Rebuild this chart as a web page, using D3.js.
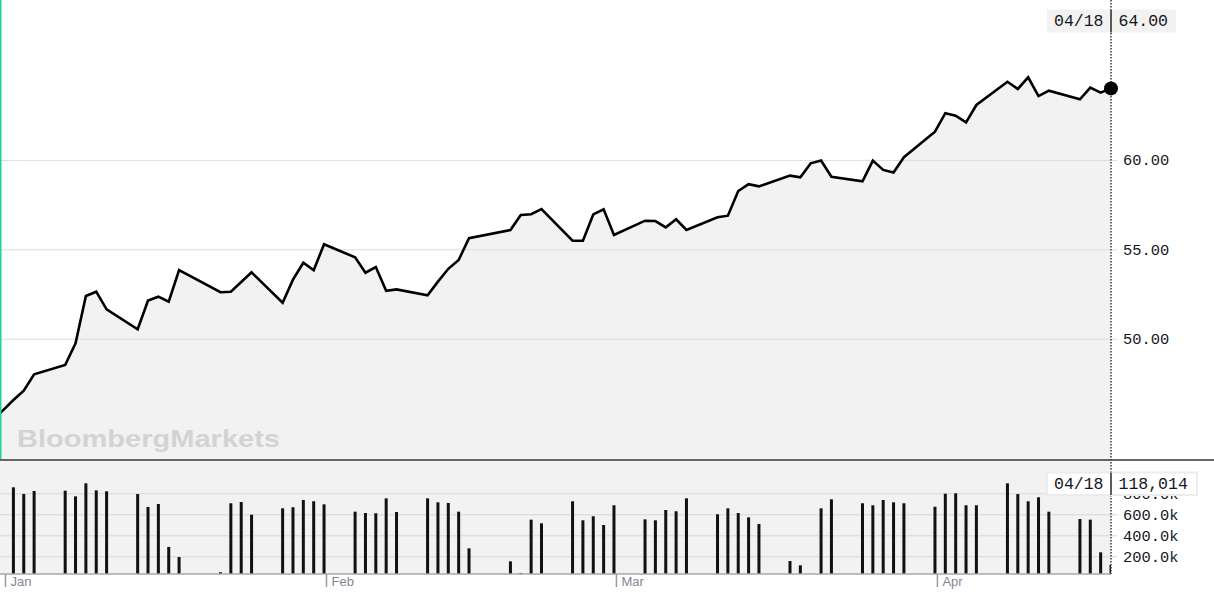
<!DOCTYPE html>
<html>
<head>
<meta charset="utf-8">
<script src="https://cdn.jsdelivr.net/npm/d3@7"></script>
<style>
  html, body { margin: 0; padding: 0; background: #fff; }
  svg { display: block; }
</style>
</head>
<body>
<div id="chart"></div>
<script>
// ---- data ----
const dates = [
  "2018-12-31",
  "2019-01-02","2019-01-03","2019-01-04","2019-01-07","2019-01-08","2019-01-09","2019-01-10","2019-01-11",
  "2019-01-14","2019-01-15","2019-01-16","2019-01-17","2019-01-18","2019-01-22","2019-01-23","2019-01-24",
  "2019-01-25","2019-01-28","2019-01-29","2019-01-30","2019-01-31","2019-02-01","2019-02-04","2019-02-05",
  "2019-02-06","2019-02-07","2019-02-08","2019-02-11","2019-02-12","2019-02-13","2019-02-14","2019-02-15",
  "2019-02-19","2019-02-20","2019-02-21","2019-02-22","2019-02-25","2019-02-26","2019-02-27","2019-02-28",
  "2019-03-01","2019-03-04","2019-03-05","2019-03-06","2019-03-07","2019-03-08","2019-03-11","2019-03-12",
  "2019-03-13","2019-03-14","2019-03-15","2019-03-18","2019-03-19","2019-03-20","2019-03-21","2019-03-22",
  "2019-03-25","2019-03-26","2019-03-27","2019-03-28","2019-03-29","2019-04-01","2019-04-02","2019-04-03",
  "2019-04-04","2019-04-05","2019-04-08","2019-04-09","2019-04-10","2019-04-11","2019-04-12","2019-04-15",
  "2019-04-16","2019-04-17","2019-04-18"
];
const prices = [
  45.43,
  46.57,47.09,48.01,48.53,49.74,52.39,52.63,51.64,
  50.53,52.13,52.35,52.07,53.84,52.60,52.63,53.17,
  53.71,52.01,53.30,54.25,53.83,55.28,54.55,53.69,
  54.01,52.68,52.76,52.43,53.19,53.91,54.40,55.62,
  56.08,56.92,56.96,57.25,55.48,55.48,56.95,57.24,
  55.80,56.60,56.58,56.23,56.68,56.08,56.79,56.88,
  58.26,58.64,58.52,59.12,59.03,59.81,59.96,59.06,
  58.80,59.96,59.44,59.30,60.15,61.58,62.61,62.47,
  62.10,63.07,64.37,63.97,64.62,63.57,63.87,63.39,
  64.04,63.76,64.00
];
const volumes = [
  null,
  857000,793000,822000,825000,771000,895000,828000,819000,
  793000,670000,698000,289000,193000,48000,705000,717000,
  596000,657000,667000,736000,724000,695000,625000,612000,
  610000,752000,622000,752000,714000,708000,625000,276000,
  152000,41000,549000,514000,724000,543000,581000,498000,
  686000,552000,543000,641000,629000,752000,600000,657000,
  612000,571000,508000,155000,114000,null,657000,743000,
  705000,686000,736000,714000,705000,672000,796000,800000,
  686000,686000,895000,793000,724000,762000,625000,555000,
  549000,238000,118014
];
const priceTicks = [50, 55, 60];
const volumeTicks = [200000, 400000, 600000, 800000];
const monthTicks = ["2019-01-01","2019-02-01","2019-03-01","2019-04-01"];
const watermark = "BloombergMarkets";

// ---- layout ----
const W = 1214, H = 602;
const plotRight = 1111;
const priceBottom = 460;
const volBottom = 574;
const monoFont = "'Liberation Mono', 'DejaVu Sans Mono', monospace";

const parse = d3.utcParse("%Y-%m-%d");
const data = dates.map((d, i) => ({ date: parse(d), price: prices[i], volume: volumes[i] }));
const last = data[data.length - 1];

const x = d3.scaleUtc()
  .domain([Date.UTC(2019, 0, 1), Date.UTC(2019, 3, 18)])
  .range([3.05, plotRight]);
const yP = d3.scaleLinear().domain([50, 60]).range([338.7, 159.9]);
const yV = d3.scaleLinear().domain([0, 800000]).range([577.3, 493.3]);

const svg = d3.select("#chart").append("svg")
  .attr("width", W).attr("height", H)
  .attr("viewBox", `0 0 ${W} ${H}`);

const defs = svg.append("defs");
defs.append("clipPath").attr("id", "plotClip")
  .append("rect").attr("x", 0).attr("y", 0).attr("width", plotRight).attr("height", volBottom);

// volume panel background
svg.append("rect")
  .attr("x", 0).attr("y", priceBottom).attr("width", plotRight).attr("height", volBottom - priceBottom)
  .attr("fill", "#f2f2f2");

// price area
const area = d3.area()
  .x(d => x(d.date))
  .y0(priceBottom)
  .y1(d => yP(d.price));
svg.append("path")
  .datum(data)
  .attr("clip-path", "url(#plotClip)")
  .attr("d", area)
  .attr("fill", "#f2f2f2");

// watermark
svg.append("text")
  .attr("x", 17).attr("y", 447)
  .attr("font-family", "'Liberation Sans', Arial, sans-serif")
  .attr("font-weight", "bold")
  .attr("font-size", 24)
  .attr("textLength", 263)
  .attr("lengthAdjust", "spacingAndGlyphs")
  .attr("fill", "#d3d3d3")
  .text(watermark);

// price axis + gridlines
const pAxis = svg.append("g")
  .attr("transform", `translate(1117,0)`)
  .call(d3.axisRight(yP).tickValues(priceTicks).tickSizeInner(-1117).tickSizeOuter(0)
    .tickPadding(6).tickFormat(d3.format(".2f")));
pAxis.select(".domain").remove();
pAxis.selectAll(".tick line").attr("stroke", "#dcdcdc").attr("stroke-width", 1);
pAxis.selectAll(".tick text")
  .attr("font-family", monoFont).attr("font-size", 15.4).attr("fill", "#151522");

// volume axis + gridlines
const vAxis = svg.append("g")
  .attr("transform", `translate(1117,0)`)
  .call(d3.axisRight(yV).tickValues(volumeTicks).tickSizeInner(-1117).tickSizeOuter(0)
    .tickPadding(6).tickFormat(d => d3.format(".1f")(d / 1000) + "k"));
vAxis.select(".domain").remove();
vAxis.selectAll(".tick line").attr("stroke", "#d8d8d8").attr("stroke-width", 1);
vAxis.selectAll(".tick text")
  .attr("font-family", monoFont).attr("font-size", 15.4).attr("fill", "#151522");

// volume bars
svg.append("g")
  .attr("clip-path", "url(#plotClip)")
  .selectAll("rect")
  .data(data.filter(d => d.volume != null))
  .join("rect")
  .attr("x", d => x(d.date) - 1.5)
  .attr("width", 3)
  .attr("y", d => yV(d.volume))
  .attr("height", d => Math.max(0, volBottom - yV(d.volume)))
  .attr("fill", "#111");

// price line
const line = d3.line().x(d => x(d.date)).y(d => yP(d.price));
svg.append("path")
  .datum(data)
  .attr("clip-path", "url(#plotClip)")
  .attr("d", line)
  .attr("fill", "none")
  .attr("stroke", "#000")
  .attr("stroke-width", 2.6);

// panel separator
svg.append("line")
  .attr("x1", 0).attr("x2", W).attr("y1", priceBottom).attr("y2", priceBottom)
  .attr("stroke", "#666").attr("stroke-width", 2);

// x axis
svg.append("line")
  .attr("x1", 0).attr("x2", plotRight).attr("y1", volBottom).attr("y2", volBottom)
  .attr("stroke", "#a8a8a8").attr("stroke-width", 1.5);
const tickOffset = 4.5 * 3600 * 1000;
const xAxis = svg.append("g")
  .attr("transform", `translate(0,${volBottom})`)
  .call(d3.axisBottom(x)
    .tickValues(monthTicks.map(d => new Date(parse(d).getTime() + tickOffset)))
    .tickSizeInner(13).tickSizeOuter(0)
    .tickFormat(d3.utcFormat("%b")));
xAxis.select(".domain").remove();
xAxis.selectAll(".tick line").attr("stroke", "#9a9a9a").attr("stroke-width", 1.5);
xAxis.selectAll(".tick text")
  .attr("text-anchor", "start")
  .attr("x", 5).attr("y", 3).attr("dy", "0.71em")
  .attr("font-family", "'Liberation Sans', Arial, sans-serif")
  .attr("font-size", 13)
  .attr("fill", "#858594");

// dotted cursor line
svg.append("line")
  .attr("x1", x(last.date)).attr("x2", x(last.date))
  .attr("y1", 0).attr("y2", volBottom)
  .attr("stroke", "#444").attr("stroke-width", 1.6)
  .attr("stroke-dasharray", "1.5,1.5");

// end dot
svg.append("circle")
  .attr("cx", x(last.date)).attr("cy", yP(last.price)).attr("r", 7)
  .attr("fill", "#000");

// label boxes
const fmtDate = d3.utcFormat("%m/%d");
function labelBox(y, h, fill, stroke, valueText) {
  const g = svg.append("g");
  g.append("rect")
    .attr("x", 1047).attr("y", y).attr("width", stroke ? 150 : 129).attr("height", h)
    .attr("fill", fill)
    .attr("stroke", stroke || "none").attr("stroke-width", stroke ? 2 : 0);
  g.append("line")
    .attr("x1", x(last.date)).attr("x2", x(last.date))
    .attr("y1", y).attr("y2", y + h)
    .attr("stroke", "#333").attr("stroke-width", 1.6);
  g.append("text")
    .attr("x", 1054).attr("y", y + 16.6)
    .attr("font-family", monoFont).attr("font-size", 16.5).attr("fill", "#151522")
    .text(fmtDate(last.date));
  g.append("text")
    .attr("x", 1118.5).attr("y", y + 16.6)
    .attr("font-family", monoFont).attr("font-size", 16.5).attr("fill", "#151522")
    .text(valueText);
}
labelBox(9.5, 23, "#f2f2f2", null, d3.format(".2f")(last.price));
labelBox(472.5, 22.5, "#ffffff", "#ececec", d3.format(",")(last.volume));

// left accent line
svg.append("rect")
  .attr("x", 0).attr("y", 0).attr("width", 1.5).attr("height", priceBottom - 1)
  .attr("fill", "#1ed49b");
</script>
</body>
</html>
